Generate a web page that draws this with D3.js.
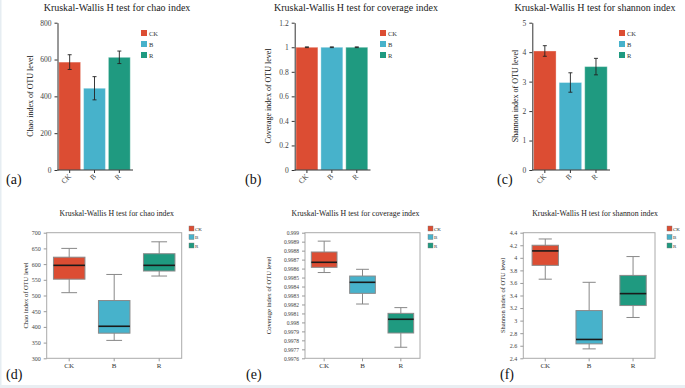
<!DOCTYPE html>
<html>
<head>
<meta charset="utf-8">
<script src="https://cdn.jsdelivr.net/npm/d3@7"></script>
<style>
  body { margin: 0; background: #fff; }
  svg { display: block; }
  text { font-family: "Liberation Serif", "Times New Roman", serif; }
</style>
</head>
<body>
<svg id="chart" width="685" height="388"></svg>
<script>
// groups and colours
const groups = ["CK", "B", "R"];
const colors = ["#dc4d33", "#47b2cb", "#1f9a80"];

// bar charts: mean and error (sd)
const chaoMean = [586, 444, 612];
const chaoErr = [40, 63, 34];
const coverageMean = [0.9987, 0.9984, 0.9980];
const coverageErr = [0.0001, 0.0001, 0.0001];
const shannonMean = [4.04, 2.97, 3.51];
const shannonErr = [0.18, 0.33, 0.28];

// y ticks
const chaoBarTicks = [0, 200, 400, 600, 800];
const coverageBarTicks = [0, 0.2, 0.4, 0.6, 0.8, 1, 1.2];
const shannonBarTicks = [0, 1, 2, 3, 4, 5];

// box plots: [min, q1, median, q3, max]
const chaoBox = [[509, 552, 596, 622, 650], [357, 380, 402, 484, 567], [562, 578, 596, 633, 671]];
const coverageBox = [
  [0.998556, 0.998614, 0.998670, 0.998785, 0.998906],
  [0.998205, 0.998324, 0.998447, 0.998517, 0.998592],
  [0.997723, 0.997882, 0.998035, 0.998101, 0.998165]
];
const shannonBox = [[3.66, 3.88, 4.11, 4.20, 4.30], [2.55, 2.63, 2.70, 3.16, 3.61], [3.05, 3.24, 3.43, 3.72, 4.02]];

const chaoBoxTicks = d3.range(300, 701, 50);
const coverageBoxTicks = d3.range(0, 15).map(i => 0.9976 + i * 0.0001);
const shannonBoxTicks = d3.range(0, 11).map(i => 2.4 + i * 0.2);

const svg = d3.select("#chart");

// faint frame of the figure
svg.append("rect").attr("x", 0).attr("y", 0).attr("width", 1.5).attr("height", 388).attr("fill", "#e6edf2");
svg.append("rect").attr("x", 0).attr("y", 385).attr("width", 685).attr("height", 3).attr("fill", "#e9eef2");

function barPanel(c) {
  const g = svg.append("g");
  const x = d3.scaleBand().domain(groups).range([c.x0, c.x1]).paddingInner(0.12).paddingOuter(0.05);
  const y = d3.scaleLinear().domain([c.ticks[0], c.ticks[c.ticks.length - 1]]).range([170, 22.7]);

  g.selectAll("rect.bar")
    .data(c.means)
    .enter()
    .append("rect")
    .attr("x", (d, i) => x(groups[i]))
    .attr("y", d => y(d))
    .attr("width", x.bandwidth())
    .attr("height", d => y(c.ticks[0]) - y(d))
    .attr("fill", (d, i) => colors[i])
    .attr("stroke", "#ffffff")
    .attr("stroke-opacity", 0.35)
    .attr("stroke-width", 1);

  // error bars
  const eb = g.selectAll("g.err").data(c.means).enter().append("g")
    .attr("stroke", "#222").attr("stroke-width", 0.9);
  eb.append("line")
    .attr("x1", (d, i) => x(groups[i]) + x.bandwidth() / 2)
    .attr("x2", (d, i) => x(groups[i]) + x.bandwidth() / 2)
    .attr("y1", (d, i) => y(d + c.errs[i]))
    .attr("y2", (d, i) => y(d - c.errs[i]));
  [1, -1].forEach(s => {
    eb.append("line")
      .attr("x1", (d, i) => x(groups[i]) + x.bandwidth() / 2 - 2)
      .attr("x2", (d, i) => x(groups[i]) + x.bandwidth() / 2 + 2)
      .attr("y1", (d, i) => y(d + s * c.errs[i]))
      .attr("y2", (d, i) => y(d + s * c.errs[i]));
  });

  const ya = g.append("g")
    .attr("transform", `translate(${c.x0},0)`)
    .call(d3.axisLeft(y).tickValues(c.ticks).tickSize(3).tickSizeOuter(0).tickFormat(d3.format("~g")));
  ya.selectAll("text").attr("font-size", "7.5px").attr("fill", "#444").style("font-family", "Liberation Serif");
  ya.selectAll("line,path").attr("stroke", "#333");

  const xa = g.append("g")
    .attr("transform", `translate(0,170)`)
    .call(d3.axisBottom(x).tickSize(3).tickSizeOuter(0));
  xa.select("path").attr("d", `M${c.x0},0H${c.x1 + 1.5}`);
  xa.selectAll("line,path").attr("stroke", "#333");
  xa.selectAll("text")
    .attr("font-size", "7.5px").attr("fill", "#444").style("font-family", "Liberation Serif")
    .attr("text-anchor", "end")
    .attr("dy", null)
    .attr("y", 0)
    .attr("transform", "translate(2,7) rotate(-45)");

  g.append("text").attr("x", c.titleX).attr("y", 11).attr("text-anchor", "middle")
    .attr("font-size", "10px").attr("fill", "#222").text(c.title);
  g.append("text")
    .attr("transform", `translate(${c.ylabX},96) rotate(-90)`)
    .attr("text-anchor", "middle").attr("font-size", "8px").attr("fill", "#111").text(c.ylabel);
  g.append("text").attr("x", c.tagX).attr("y", 184).attr("font-size", "14px").attr("fill", "#111").text(c.tag);

  const lg = g.selectAll("g.leg").data(groups).enter().append("g")
    .attr("transform", (d, i) => `translate(${c.legX},${30 + i * 11})`);
  lg.append("rect").attr("width", 6).attr("height", 6).attr("fill", (d, i) => colors[i]);
  lg.append("text").attr("x", 8).attr("y", 5.5).attr("font-size", "6.5px").attr("fill", "#333").text(d => d);
}

function boxPanel(c) {
  const g = svg.append("g");
  const top = 232.7, bot = 358.3;
  const x = d3.scaleBand().domain(groups).range([c.x0, c.x1]).paddingInner(c.pad).paddingOuter(c.pad / 2);
  const y = d3.scaleLinear().domain([c.ticks[0], c.ticks[c.ticks.length - 1]]).range([bot, top]);

  g.append("rect").attr("x", c.x0).attr("y", top).attr("width", c.x1 - c.x0).attr("height", bot - top)
    .attr("fill", "none").attr("stroke", "#aaa").attr("stroke-width", 1);

  const bx = g.selectAll("g.box").data(c.stats).enter().append("g");
  const cx = (i) => x(groups[i]) + x.bandwidth() / 2;
  bx.append("line").attr("x1", (d, i) => cx(i)).attr("x2", (d, i) => cx(i))
    .attr("y1", d => y(d[4])).attr("y2", d => y(d[0])).attr("stroke", "#888").attr("stroke-width", 1);
  [0, 4].forEach(k => {
    bx.append("line")
      .attr("x1", (d, i) => cx(i) - x.bandwidth() / 4).attr("x2", (d, i) => cx(i) + x.bandwidth() / 4)
      .attr("y1", d => y(d[k])).attr("y2", d => y(d[k])).attr("stroke", "#888").attr("stroke-width", 1);
  });
  bx.append("rect").attr("x", (d, i) => x(groups[i])).attr("y", d => y(d[3]))
    .attr("width", x.bandwidth()).attr("height", d => y(d[1]) - y(d[3]))
    .attr("fill", (d, i) => colors[i]).attr("stroke", "#8a8a8a").attr("stroke-width", 1);
  bx.append("line").attr("x1", (d, i) => x(groups[i])).attr("x2", (d, i) => x(groups[i]) + x.bandwidth())
    .attr("y1", d => y(d[2])).attr("y2", d => y(d[2])).attr("stroke", "#1a1a1a").attr("stroke-width", 1.6);

  const ya = g.append("g").attr("transform", `translate(${c.x0},0)`)
    .call(d3.axisLeft(y).tickValues(c.ticks).tickSize(3).tickSizeOuter(0).tickFormat(d => String(+d.toFixed(4))));
  ya.select("path").remove();
  ya.selectAll("line").attr("stroke", "#999");
  ya.selectAll("text").attr("font-size", c.tickFs).attr("fill", "#444").style("font-family", "Liberation Serif");

  const xa = g.append("g").attr("transform", `translate(0,${bot})`)
    .call(d3.axisBottom(x).tickSize(3).tickSizeOuter(0));
  xa.select("path").remove();
  xa.selectAll("line").attr("stroke", "#999");
  xa.selectAll("text").attr("font-size", "7px").attr("fill", "#333").style("font-family", "Liberation Serif").attr("y", 5);

  g.append("text").attr("x", c.titleX).attr("y", 216).attr("text-anchor", "middle")
    .attr("font-size", "7.8px").attr("fill", "#222").text(c.title);
  g.append("text").attr("transform", `translate(${c.ylabX},${(top + bot) / 2}) rotate(-90)`)
    .attr("text-anchor", "middle").attr("font-size", "6.5px").attr("fill", "#222").text(c.ylabel);
  g.append("text").attr("x", c.tagX).attr("y", 379).attr("font-size", "14px").attr("fill", "#111").text(c.tag);

  const lg = g.selectAll("g.leg").data(groups).enter().append("g")
    .attr("transform", (d, i) => `translate(${c.legX},${226 + i * 8.5})`);
  lg.append("rect").attr("width", 5).attr("height", 5).attr("fill", (d, i) => colors[i])
    .attr("stroke", "#777").attr("stroke-width", 0.4);
  lg.append("text").attr("x", 6).attr("y", 4.5).attr("font-size", "5px").attr("fill", "#333").text(d => d);
}

barPanel({ x0: 57.5, x1: 131.5, ticks: chaoBarTicks, means: chaoMean, errs: chaoErr,
  title: "Kruskal-Wallis H test for chao index", titleX: 117, ylabel: "Chao index of OTU level", ylabX: 33,
  tag: "(a)", tagX: 6, legX: 141 });
barPanel({ x0: 294.7, x1: 369, ticks: coverageBarTicks, means: [1, 1, 1], errs: [0.003, 0.003, 0.003],
  title: "Kruskal-Wallis H test for coverage index", titleX: 356, ylabel: "Coverage index of OTU level", ylabX: 271,
  tag: "(b)", tagX: 245, legX: 380 });
barPanel({ x0: 532.3, x1: 608.5, ticks: shannonBarTicks, means: shannonMean, errs: shannonErr,
  title: "Kruskal-Wallis H test for shannon index", titleX: 595, ylabel: "Shannon index of OTU level", ylabX: 518,
  tag: "(c)", tagX: 497, legX: 619 });

boxPanel({ x0: 46.7, x1: 181.7, pad: 0.3, ticks: chaoBoxTicks, stats: chaoBox, tickFs: "6px",
  title: "Kruskal-Wallis H test for chao index", titleX: 116.7, ylabel: "Chao index of OTU level", ylabX: 28,
  tag: "(d)", tagX: 6, legX: 189 });
boxPanel({ x0: 305, x1: 420, pad: 0.33, ticks: coverageBoxTicks, stats: coverageBox, tickFs: "5.5px",
  title: "Kruskal-Wallis H test for coverage index", titleX: 355.5, ylabel: "Coverage index of OTU level", ylabX: 271,
  tag: "(e)", tagX: 246, legX: 428 });
boxPanel({ x0: 523.3, x1: 655, pad: 0.4, ticks: shannonBoxTicks, stats: shannonBox, tickFs: "6px",
  title: "Kruskal-Wallis H test for shannon index", titleX: 595, ylabel: "Shannon index of OTU level", ylabX: 505,
  tag: "(f)", tagX: 500, legX: 667 });
</script>
</body>
</html>
